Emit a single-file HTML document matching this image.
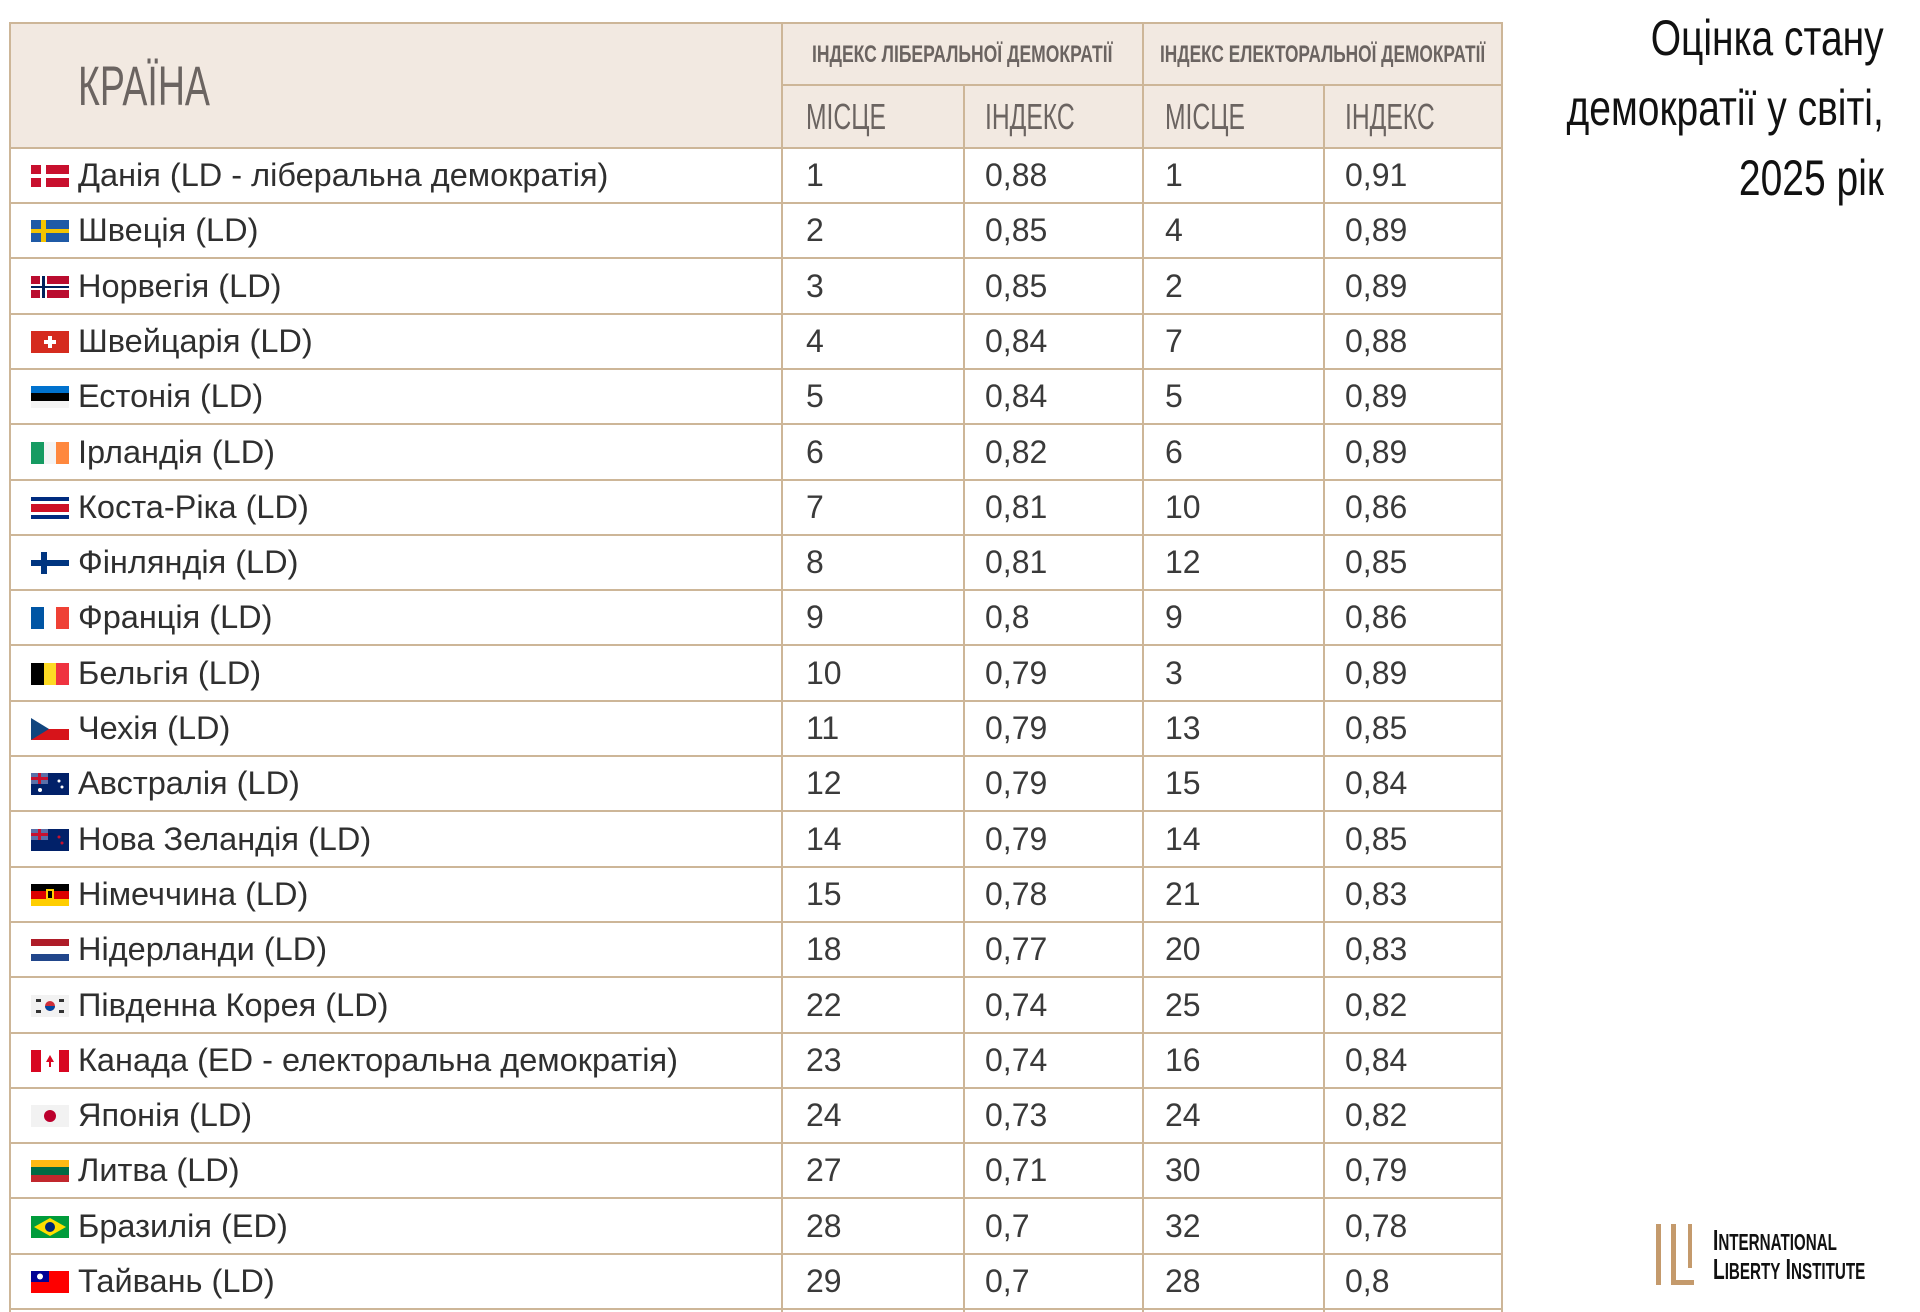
<!DOCTYPE html>
<html><head><meta charset="utf-8">
<style>
*{margin:0;padding:0;box-sizing:border-box}
body{width:1920px;height:1312px;background:#fff;position:relative;overflow:hidden;font-family:"Liberation Sans","DejaVu Sans",sans-serif}
.hdr{position:absolute;left:10px;top:23px;width:1491px;height:125px;background:#f2e9e1}
.vl{position:absolute;width:2px;background:#cdb698}
.hl{position:absolute;height:2px;background:#cdb698}
.c{position:absolute;color:#6b6461;white-space:nowrap;transform-origin:left center}
.row{position:absolute;left:10px;width:1491px;height:56px;border-bottom:2px solid #cdb698}
.row span{position:absolute;top:0;line-height:54px;font-size:32.5px;color:#2f2f2f;white-space:nowrap}
.row svg{position:absolute;left:21px;top:17px}
.n{font-size:32px!important;color:#3a3a3a!important}
.t{position:absolute;right:36px;font-size:50px;color:#111;white-space:nowrap;transform:scaleX(.78);transform-origin:right center}
</style></head><body>
<div class="hdr"></div>
<div class="hl" style="left:10px;top:22px;width:1492px"></div>
<div class="hl" style="left:782px;top:84px;width:720px"></div>
<div class="hl" style="left:10px;top:147px;width:1492px"></div>
<div class="vl" style="left:9px;top:22px;height:1290px"></div>
<div class="vl" style="left:781px;top:22px;height:1290px"></div>
<div class="vl" style="left:963px;top:85px;height:1227px"></div>
<div class="vl" style="left:1142px;top:22px;height:1290px"></div>
<div class="vl" style="left:1323px;top:85px;height:1227px"></div>
<div class="vl" style="left:1501px;top:22px;height:1290px"></div>

<div class="c" style="left:78px;top:56px;font-size:56px;line-height:60px;transform:scaleX(.67)">КРАЇНА</div>
<div class="c" style="left:812px;top:40px;font-size:24px;line-height:30px;font-weight:bold;transform:scaleX(.73)">ІНДЕКС ЛІБЕРАЛЬНОЇ ДЕМОКРАТІЇ</div>
<div class="c" style="left:1160px;top:40px;font-size:24px;line-height:30px;font-weight:bold;transform:scaleX(.72)">ІНДЕКС ЕЛЕКТОРАЛЬНОЇ ДЕМОКРАТІЇ</div>
<div class="c" style="left:806px;top:97px;font-size:36px;line-height:40px;transform:scaleX(.685)">МІСЦЕ</div>
<div class="c" style="left:985px;top:97px;font-size:36px;line-height:40px;transform:scaleX(.685)">ІНДЕКС</div>
<div class="c" style="left:1165px;top:97px;font-size:36px;line-height:40px;transform:scaleX(.685)">МІСЦЕ</div>
<div class="c" style="left:1345px;top:97px;font-size:36px;line-height:40px;transform:scaleX(.685)">ІНДЕКС</div>

<div class="t" style="top:10px;line-height:56px">Оцінка стану</div>
<div class="t" style="top:80px;line-height:56px">демократії у світі,</div>
<div class="t" style="top:150px;line-height:56px">2025 рік</div>

<div class="row" style="top:148px"><svg width="38" height="22"><rect width="38" height="22" fill="#c8102e"/><rect x="10" width="5" height="22" fill="#fff"/><rect y="9" width="38" height="4" fill="#fff"/></svg><span style="left:68px">Данія (LD - ліберальна демократія)</span><span class="n" style="left:796px">1</span><span class="n" style="left:975px">0,88</span><span class="n" style="left:1155px">1</span><span class="n" style="left:1335px">0,91</span></div>
<div class="row" style="top:203.3px"><svg width="38" height="22"><rect width="38" height="22" fill="#1f5aa6"/><rect x="10" width="5" height="22" fill="#f5c400"/><rect y="9" width="38" height="4" fill="#f5c400"/></svg><span style="left:68px">Швеція (LD)</span><span class="n" style="left:796px">2</span><span class="n" style="left:975px">0,85</span><span class="n" style="left:1155px">4</span><span class="n" style="left:1335px">0,89</span></div>
<div class="row" style="top:258.6px"><svg width="38" height="22"><rect width="38" height="22" fill="#ba0c2f"/><rect x="9" width="7" height="22" fill="#fff"/><rect y="8" width="38" height="6" fill="#fff"/><rect x="11" width="3" height="22" fill="#00205b"/><rect y="10" width="38" height="2" fill="#00205b"/></svg><span style="left:68px">Норвегія (LD)</span><span class="n" style="left:796px">3</span><span class="n" style="left:975px">0,85</span><span class="n" style="left:1155px">2</span><span class="n" style="left:1335px">0,89</span></div>
<div class="row" style="top:313.9px"><svg width="38" height="22"><rect width="38" height="22" fill="#d52b1e"/><rect x="17" y="5" width="4" height="12" fill="#fff"/><rect x="13" y="9" width="12" height="4" fill="#fff"/></svg><span style="left:68px">Швейцарія (LD)</span><span class="n" style="left:796px">4</span><span class="n" style="left:975px">0,84</span><span class="n" style="left:1155px">7</span><span class="n" style="left:1335px">0,88</span></div>
<div class="row" style="top:369.2px"><svg width="38" height="22"><rect width="38" height="7" fill="#0072ce"/><rect y="7" width="38" height="8" fill="#000"/><rect y="15" width="38" height="7" fill="#f4f4f4"/></svg><span style="left:68px">Естонія (LD)</span><span class="n" style="left:796px">5</span><span class="n" style="left:975px">0,84</span><span class="n" style="left:1155px">5</span><span class="n" style="left:1335px">0,89</span></div>
<div class="row" style="top:424.5px"><svg width="38" height="22"><rect width="13" height="22" fill="#169b62"/><rect x="13" width="12" height="22" fill="#f4f4f4"/><rect x="25" width="13" height="22" fill="#ff883e"/></svg><span style="left:68px">Ірландія (LD)</span><span class="n" style="left:796px">6</span><span class="n" style="left:975px">0,82</span><span class="n" style="left:1155px">6</span><span class="n" style="left:1335px">0,89</span></div>
<div class="row" style="top:479.8px"><svg width="38" height="22"><rect width="38" height="22" fill="#002b7f"/><rect y="4" width="38" height="14" fill="#fff"/><rect y="7" width="38" height="8" fill="#ce1126"/></svg><span style="left:68px">Коста-Ріка (LD)</span><span class="n" style="left:796px">7</span><span class="n" style="left:975px">0,81</span><span class="n" style="left:1155px">10</span><span class="n" style="left:1335px">0,86</span></div>
<div class="row" style="top:535.1px"><svg width="38" height="22"><rect width="38" height="22" fill="#fff"/><rect x="10" width="6" height="22" fill="#003580"/><rect y="8" width="38" height="6" fill="#003580"/></svg><span style="left:68px">Фінляндія (LD)</span><span class="n" style="left:796px">8</span><span class="n" style="left:975px">0,81</span><span class="n" style="left:1155px">12</span><span class="n" style="left:1335px">0,85</span></div>
<div class="row" style="top:590.4px"><svg width="38" height="22"><rect width="13" height="22" fill="#0055a4"/><rect x="13" width="12" height="22" fill="#fff"/><rect x="25" width="13" height="22" fill="#ef4135"/></svg><span style="left:68px">Франція (LD)</span><span class="n" style="left:796px">9</span><span class="n" style="left:975px">0,8</span><span class="n" style="left:1155px">9</span><span class="n" style="left:1335px">0,86</span></div>
<div class="row" style="top:645.7px"><svg width="38" height="22"><rect width="13" height="22" fill="#000"/><rect x="13" width="12" height="22" fill="#fdda24"/><rect x="25" width="13" height="22" fill="#ef3340"/></svg><span style="left:68px">Бельгія (LD)</span><span class="n" style="left:796px">10</span><span class="n" style="left:975px">0,79</span><span class="n" style="left:1155px">3</span><span class="n" style="left:1335px">0,89</span></div>
<div class="row" style="top:701px"><svg width="38" height="22"><rect width="38" height="11" fill="#fff"/><rect y="11" width="38" height="11" fill="#d7141a"/><polygon points="0,0 18,11 0,22" fill="#11457e"/></svg><span style="left:68px">Чехія (LD)</span><span class="n" style="left:796px">11</span><span class="n" style="left:975px">0,79</span><span class="n" style="left:1155px">13</span><span class="n" style="left:1335px">0,85</span></div>
<div class="row" style="top:756.3px"><svg width="38" height="22"><rect width="38" height="22" fill="#012169"/><rect width="17" height="11" fill="#5a6fa8"/><rect x="7" width="3" height="11" fill="#c8102e"/><rect y="4" width="17" height="3" fill="#c8102e"/><circle cx="28" cy="8" r="1.5" fill="#fff"/><circle cx="31" cy="14" r="1.5" fill="#fff"/><circle cx="9" cy="17" r="2" fill="#fff"/></svg><span style="left:68px">Австралія (LD)</span><span class="n" style="left:796px">12</span><span class="n" style="left:975px">0,79</span><span class="n" style="left:1155px">15</span><span class="n" style="left:1335px">0,84</span></div>
<div class="row" style="top:811.6px"><svg width="38" height="22"><rect width="38" height="22" fill="#012169"/><rect width="17" height="11" fill="#5a6fa8"/><rect x="7" width="3" height="11" fill="#c8102e"/><rect y="4" width="17" height="3" fill="#c8102e"/><circle cx="28" cy="8" r="1.5" fill="#c8102e"/><circle cx="31" cy="14" r="1.5" fill="#c8102e"/></svg><span style="left:68px">Нова Зеландія (LD)</span><span class="n" style="left:796px">14</span><span class="n" style="left:975px">0,79</span><span class="n" style="left:1155px">14</span><span class="n" style="left:1335px">0,85</span></div>
<div class="row" style="top:866.9px"><svg width="38" height="22"><rect width="38" height="7" fill="#000"/><rect y="7" width="38" height="8" fill="#dd0000"/><rect y="15" width="38" height="7" fill="#ffce00"/><rect x="15" y="5" width="8" height="11" fill="#ffce00"/><rect x="17" y="7" width="4" height="7" fill="#000"/></svg><span style="left:68px">Німеччина (LD)</span><span class="n" style="left:796px">15</span><span class="n" style="left:975px">0,78</span><span class="n" style="left:1155px">21</span><span class="n" style="left:1335px">0,83</span></div>
<div class="row" style="top:922.2px"><svg width="38" height="22"><rect width="38" height="7" fill="#ae1c28"/><rect y="7" width="38" height="8" fill="#fff"/><rect y="15" width="38" height="7" fill="#21468b"/></svg><span style="left:68px">Нідерланди (LD)</span><span class="n" style="left:796px">18</span><span class="n" style="left:975px">0,77</span><span class="n" style="left:1155px">20</span><span class="n" style="left:1335px">0,83</span></div>
<div class="row" style="top:977.5px"><svg width="38" height="22"><rect width="38" height="22" fill="#f2f2f2"/><circle cx="19" cy="11" r="5" fill="#cd2e3a"/><path d="M14 11a5 5 0 0 0 10 0z" fill="#0047a0"/><rect x="5" y="4" width="5" height="3" fill="#333"/><rect x="28" y="4" width="5" height="3" fill="#333"/><rect x="5" y="15" width="5" height="3" fill="#333"/><rect x="28" y="15" width="5" height="3" fill="#333"/></svg><span style="left:68px">Південна Корея (LD)</span><span class="n" style="left:796px">22</span><span class="n" style="left:975px">0,74</span><span class="n" style="left:1155px">25</span><span class="n" style="left:1335px">0,82</span></div>
<div class="row" style="top:1032.8px"><svg width="38" height="22"><rect width="38" height="22" fill="#fff"/><rect width="10" height="22" fill="#d80621"/><rect x="28" width="10" height="22" fill="#d80621"/><polygon points="19,5 23,12 20,12 20,17 18,17 18,12 15,12" fill="#d80621"/></svg><span style="left:68px">Канада (ED - електоральна демократія)</span><span class="n" style="left:796px">23</span><span class="n" style="left:975px">0,74</span><span class="n" style="left:1155px">16</span><span class="n" style="left:1335px">0,84</span></div>
<div class="row" style="top:1088.1px"><svg width="38" height="22"><rect width="38" height="22" fill="#f2f2f2"/><circle cx="19" cy="11" r="6" fill="#bc002d"/></svg><span style="left:68px">Японія (LD)</span><span class="n" style="left:796px">24</span><span class="n" style="left:975px">0,73</span><span class="n" style="left:1155px">24</span><span class="n" style="left:1335px">0,82</span></div>
<div class="row" style="top:1143.4px"><svg width="38" height="22"><rect width="38" height="7" fill="#fdb913"/><rect y="7" width="38" height="8" fill="#006a44"/><rect y="15" width="38" height="7" fill="#c1272d"/></svg><span style="left:68px">Литва (LD)</span><span class="n" style="left:796px">27</span><span class="n" style="left:975px">0,71</span><span class="n" style="left:1155px">30</span><span class="n" style="left:1335px">0,79</span></div>
<div class="row" style="top:1198.7px"><svg width="38" height="22"><rect width="38" height="22" fill="#009c3b"/><polygon points="19,2 35,11 19,20 3,11" fill="#ffdf00"/><circle cx="19" cy="11" r="5" fill="#002776"/></svg><span style="left:68px">Бразилія (ED)</span><span class="n" style="left:796px">28</span><span class="n" style="left:975px">0,7</span><span class="n" style="left:1155px">32</span><span class="n" style="left:1335px">0,78</span></div>
<div class="row" style="top:1254px"><svg width="38" height="22"><rect width="38" height="22" fill="#fe0000"/><rect width="18" height="11" fill="#000095"/><circle cx="9" cy="5.5" r="3" fill="#fff"/></svg><span style="left:68px">Тайвань (LD)</span><span class="n" style="left:796px">29</span><span class="n" style="left:975px">0,7</span><span class="n" style="left:1155px">28</span><span class="n" style="left:1335px">0,8</span></div>

<div style="position:absolute;left:1656px;top:1224px;width:5px;height:61px;background:#c49a6c"></div>
<div style="position:absolute;left:1671px;top:1224px;width:5px;height:61px;background:#c49a6c"></div>
<div style="position:absolute;left:1671px;top:1280px;width:23px;height:5px;background:#c49a6c"></div>
<div style="position:absolute;left:1688px;top:1224px;width:4px;height:44px;background:#c49a6c"></div>
<div style="position:absolute;left:1713px;top:1226px;font-size:29px;line-height:30px;font-weight:bold;color:#111;transform:scaleX(.66);transform-origin:left top;white-space:nowrap">I<span style="font-size:23px">NTERNATIONAL</span></div>
<div style="position:absolute;left:1713px;top:1255px;font-size:29px;line-height:30px;font-weight:bold;color:#111;transform:scaleX(.66);transform-origin:left top;white-space:nowrap">L<span style="font-size:23px">IBERTY</span> I<span style="font-size:23px">NSTITUTE</span></div>
</body></html>
